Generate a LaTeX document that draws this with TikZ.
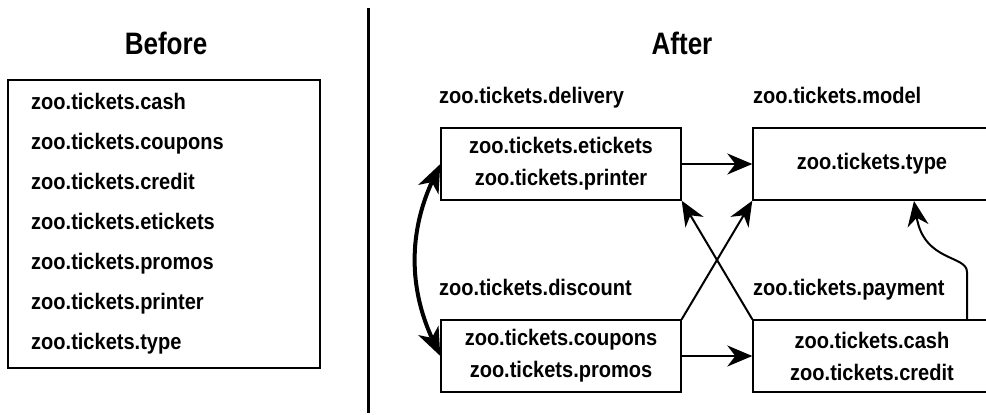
\documentclass[tikz,border=0pt]{standalone}
\usepackage{fontspec}
\setmainfont[FakeStretch=0.89]{Liberation Sans}
\newfontfamily\titlefont[FakeStretch=0.84]{Liberation Sans}
\usetikzlibrary{arrows.meta}
\tikzset{
  lab/.style={font={\bfseries\fontsize{22.5}{26}\selectfont}, anchor=base west, inner sep=0pt},
  ttl/.style={font={\titlefont\bfseries\fontsize{31}{36}\selectfont}, anchor=base, inner sep=0pt},
  pkg/.style={draw, line width=1.4pt, minimum height=72pt, align=center, inner sep=0pt,
    font={\bfseries\fontsize{22.5}{32}\selectfont}},
  dep/.style={line width=2pt, -{Stealth[length=25pt,width=21pt,inset=8pt]}},
  both/.style={line width=4pt, {Stealth[length=28pt,width=22pt,inset=8pt]}-{Stealth[length=28pt,width=22pt,inset=8pt]}},
}
\begin{document}
\begin{tikzpicture}[x=1pt,y=-1pt]
\useasboundingbox (0,0) rectangle (986,415);
\clip (0,0) rectangle (986,415);
% Before
\node[ttl] (tbefore) at (166,54) {Before};
\node[draw, line width=1.4pt, minimum width=312pt, minimum height=288pt, inner sep=0pt] (before) at (164,224) {};
\node[lab] (b1) at (31,109.5) {zoo.tickets.cash};
\node[lab] (b2) at (31,149.5) {zoo.tickets.coupons};
\node[lab] (b3) at (31,189.5) {zoo.tickets.credit};
\node[lab] (b4) at (31,229.5) {zoo.tickets.etickets};
\node[lab] (b5) at (31,269.5) {zoo.tickets.promos};
\node[lab] (b6) at (31,309.5) {zoo.tickets.printer};
\node[lab] (b7) at (31,349.5) {zoo.tickets.type};
% divider
\coordinate (dtop) at (368.5,8);
\coordinate (dbot) at (368.5,413);
\draw[line width=3pt] (dtop) -- (dbot);
% After
\node[ttl] (tafter) at (682,54) {After};
\node[lab] (ldel) at (439,103) {zoo.tickets.delivery};
\node[lab] (lmod) at (753,103) {zoo.tickets.model};
\node[lab] (ldis) at (439,295) {zoo.tickets.discount};
\node[lab] (lpay) at (753,295) {zoo.tickets.payment};
\node[pkg, minimum width=240pt] (del) at (561,164) {zoo.tickets.etickets\\zoo.tickets.printer};
\node[pkg, minimum width=240pt] (dis) at (561,356) {zoo.tickets.coupons\\zoo.tickets.promos};
\node[pkg, minimum width=238pt] (mod) at (872,164) {zoo.tickets.type};
\node[pkg, minimum width=238pt] (pay) at (872,356) {zoo.tickets.cash\\zoo.tickets.credit};
% connectors
\draw[dep] (del.east) -- (mod.west);
\draw[dep] (dis.east) -- (pay.west);
\draw[dep] (dis.north east) -- (mod.south west);
\draw[dep] (pay.north west) -- (del.south east);
\coordinate (ps) at (967,320);
\coordinate (pm) at (967,272);
\coordinate (mt) at (914,201);
\draw[dep] (ps) -- (pm) .. controls (967,255) and (924,262) .. (mt);
\draw[both] (del.west) to[bend right=25] (dis.west);
\end{tikzpicture}
\end{document}
